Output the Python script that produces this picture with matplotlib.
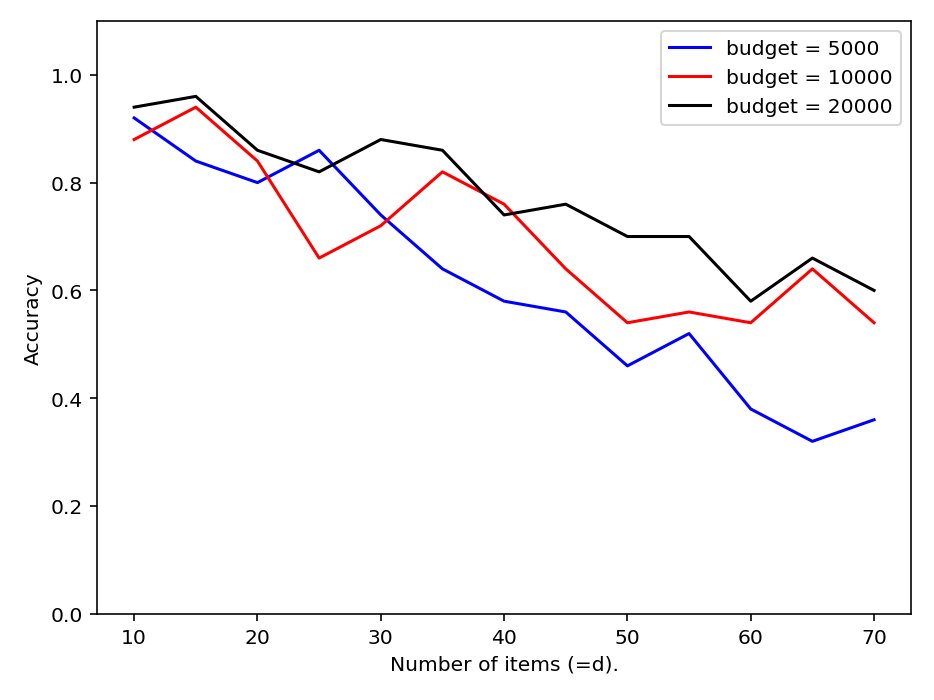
import matplotlib
matplotlib.use('Agg')
from matplotlib import pyplot as plt

items = [10, 15, 20, 25, 30, 35, 40, 45, 50, 55, 60, 65, 70]
acc_5000 = [0.92, 0.84, 0.80, 0.86, 0.74, 0.64, 0.58, 0.56, 0.46, 0.52, 0.38, 0.32, 0.36]
acc_10000 = [0.88, 0.94, 0.84, 0.66, 0.72, 0.82, 0.76, 0.64, 0.54, 0.56, 0.54, 0.64, 0.54]
acc_20000 = [0.94, 0.96, 0.86, 0.82, 0.88, 0.86, 0.74, 0.76, 0.70, 0.70, 0.58, 0.66, 0.60]

fig = plt.figure(figsize=(6.4, 4.8), dpi=146)
ax = fig.add_axes([0.104, 0.123, 0.871, 0.846])
ax.plot(items, acc_5000, c='blue', label='budget = 5000')
ax.plot(items, acc_10000, c='red', label='budget = 10000')
ax.plot(items, acc_20000, c='black', label='budget = 20000')
ax.set_ylim(0, 1.1)
ax.set_xlabel('Number of items (=d).')
ax.set_ylabel('Accuracy')
ax.legend(loc='upper right')
fig.savefig('out.png')
